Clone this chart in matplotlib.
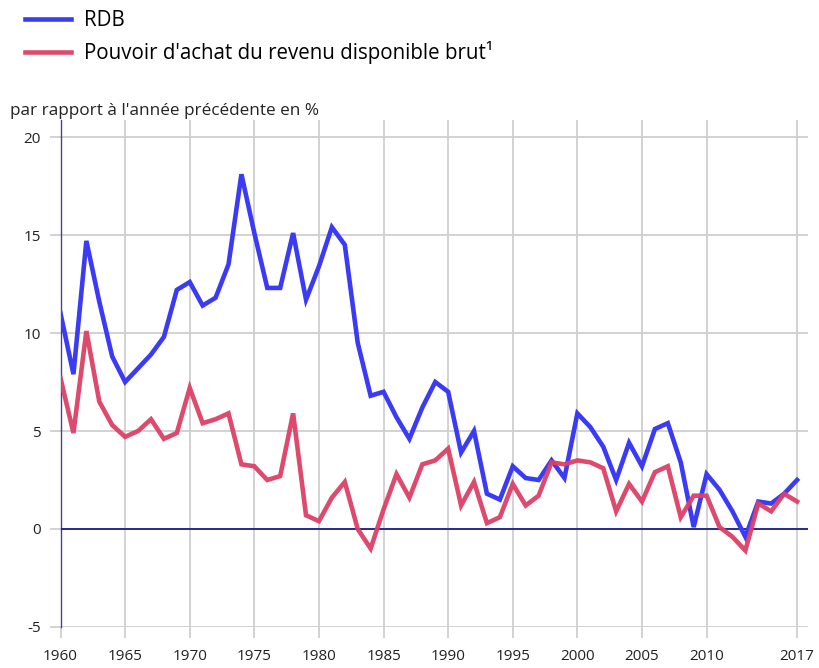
import matplotlib.pyplot as plt
from matplotlib import ticker

plt.rcParams['font.family'] = ['Open Sans', 'DejaVu Sans']

years = list(range(1960, 2018))

# RDB, variation par rapport à l'année précédente (%)
rdb = [11.0, 7.9, 14.7, 11.6, 8.8, 7.5, 8.2, 8.9, 9.8, 12.2,
       12.6, 11.4, 11.8, 13.5, 18.1, 15.1, 12.3, 12.3, 15.1, 11.7,
       13.4, 15.4, 14.5, 9.5, 6.8, 7.0, 5.7, 4.6, 6.2, 7.5,
       7.0, 3.9, 5.0, 1.8, 1.5, 3.2, 2.6, 2.5, 3.5, 2.6,
       5.9, 5.2, 4.2, 2.5, 4.4, 3.2, 5.1, 5.4, 3.4, 0.1,
       2.8, 2.0, 0.9, -0.4, 1.4, 1.3, 1.8, 2.5]

# Pouvoir d'achat du revenu disponible brut
pouvoir_achat = [7.7, 4.9, 10.1, 6.5, 5.3, 4.7, 5.0, 5.6, 4.6, 4.9,
                 7.2, 5.4, 5.6, 5.9, 3.3, 3.2, 2.5, 2.7, 5.9, 0.7,
                 0.4, 1.6, 2.4, 0.0, -1.0, 1.0, 2.8, 1.6, 3.3, 3.5,
                 4.1, 1.2, 2.4, 0.3, 0.6, 2.3, 1.2, 1.7, 3.4, 3.3,
                 3.5, 3.4, 3.1, 0.9, 2.3, 1.4, 2.9, 3.2, 0.6, 1.7,
                 1.7, 0.1, -0.4, -1.1, 1.3, 0.9, 1.8, 1.4]

x_ticks = [1960, 1965, 1970, 1975, 1980, 1985, 1990, 1995, 2000, 2005, 2010, 2017]
y_ticks = [-5, 0, 5, 10, 15, 20]

BLUE = "#3b3bf5"
RED = "#dd4065"
NAVY = "#1c1c8c"
GRID = "#cfcfcf"

fig = plt.figure(figsize=(8.19, 6.68), dpi=100)
ax = fig.add_axes([0.0739, 0.0614, 0.9127, 0.759])

ax.plot(years, rdb, color=BLUE, lw=3.3, label="RDB", zorder=3, solid_joinstyle='miter')
ax.plot(years, pouvoir_achat, color=RED, lw=3.3, label="Pouvoir d'achat du revenu disponible brut¹",
        zorder=4, alpha=0.95, solid_joinstyle='miter')

ax.axhline(0, color=NAVY, lw=1.3, zorder=2)

ax.set_xlim(1960, 2017.85)
ax.set_ylim(-5, 20.87)
ax.set_xticks(x_ticks)
ax.set_yticks(y_ticks)
ax.yaxis.set_major_formatter(ticker.FuncFormatter(lambda v, p: f"{int(v)}"))

ax.grid(True, color=GRID, lw=1.3, zorder=1)
ax.tick_params(axis='both', length=8, width=1.3, color=GRID, labelsize=11, labelcolor="#222222")
ax.tick_params(axis='x', pad=8)
ax.tick_params(axis='y', pad=6)

for side in ['top', 'right', 'bottom']:
    ax.spines[side].set_visible(False)
ax.spines['left'].set_color(NAVY)
ax.spines['left'].set_linewidth(1.0)
ax.spines['left'].set_alpha(0.8)

fig.text(0.012, 0.834, "par rapport à l'année précédente en %", fontsize=12.3, color="#222222",
         ha='left', va='center')

fig.legend(loc='upper left', bbox_to_anchor=(0.008, 1.012), frameon=False, fontsize=14.8,
           handlelength=2.25, handletextpad=0.6, labelspacing=0.45)

plt.savefig("out.png")
plt.close()
